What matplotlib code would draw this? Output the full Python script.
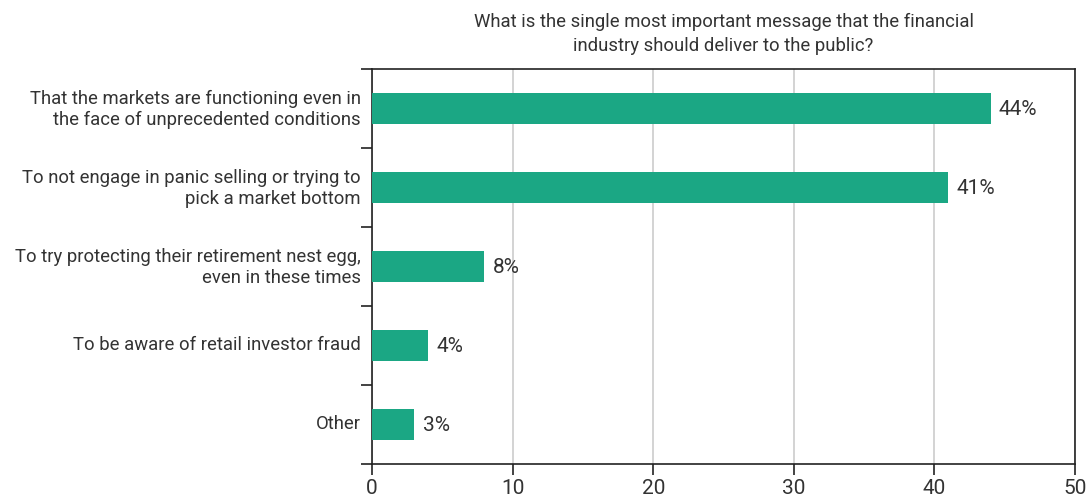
import numpy as np
import matplotlib.pyplot as plt
import matplotlib.transforms as mtransforms

categories = [
    "That the markets are functioning even in\nthe face of unprecedented conditions",
    "To not engage in panic selling or trying to\npick a market bottom",
    "To try protecting their retirement nest egg,\neven in these times",
    "To be aware of retail investor fraud",
    "Other",
]
values = [44, 41, 8, 4, 3]
value_labels = ["44%", "41%", "8%", "4%", "3%"]
xticks = [0, 10, 20, 30, 40, 50]
title = ("What is the single most important message that the financial\n"
         "industry should deliver to the public?")

plt.rcParams['font.family'] = ['Roboto', 'DejaVu Sans']
text_color = '#333333'
bar_color = '#1ba784'

fig = plt.figure(figsize=(10.88, 4.98), dpi=100)
ax = fig.add_axes([372/1088, 1 - 464/498, (1075 - 372)/1088, (464 - 69)/498])

y = np.arange(len(categories))
ax.barh(y, values, height=0.4, color=bar_color, zorder=3)
for yi, v, lab in zip(y, values, value_labels):
    ax.annotate(lab, (v, yi), xytext=(6, -1), textcoords='offset points',
                va='center', ha='left', fontsize=15, color=text_color)

ax.set_xlim(0, 50)
ax.set_ylim(len(categories) - 0.5, -0.5)
ax.set_xticks(xticks)
ax.set_yticks(y)
ax.set_yticklabels(categories, fontsize=13.3, color=text_color, ha='right',
                   linespacing=1.22)
ax.set_yticks(np.arange(-0.5, len(categories)), minor=True)
ax.tick_params(axis='y', which='major', length=0, pad=8)
ax.tick_params(axis='y', which='minor', length=8, width=1.2, color='#222222')
ax.tick_params(axis='x', length=8, width=1.2, color='#222222', labelsize=15,
               labelcolor=text_color, pad=3)
ax.grid(axis='x', color='#cccccc', linewidth=1.2, zorder=0)
for s in ax.spines.values():
    s.set_color('#222222')
    s.set_linewidth(1.2)

# nudge the category labels up a little
shift = mtransforms.ScaledTranslation(0, 3/100, fig.dpi_scale_trans)
for lab in ax.get_yticklabels():
    lab.set_transform(lab.get_transform() + shift)

ax.set_title(title, fontsize=13.3, color=text_color, pad=13, linespacing=1.45)

fig.savefig('out.png', dpi=100)
